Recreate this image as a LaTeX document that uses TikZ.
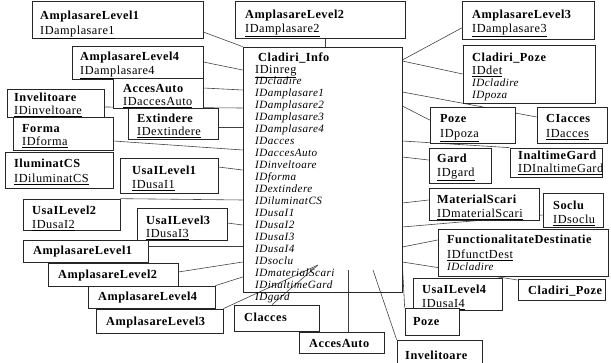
\documentclass[tikz,border=0pt]{standalone}
\usepackage{fontspec}
\setmainfont{Liberation Serif}[LetterSpace=4]
\usepackage{tikz}
\usetikzlibrary{
fit,
backgrounds,
}

\begin{document}
\begin{tikzpicture}[x=0.03cm, y=0.03cm,
		tbl/.style={draw=black!85, line width=0.6pt, fill=white, inner sep=0pt, rectangle},
		ttl/.style={anchor=base west, inner sep=0pt, font=\fontsize{10.5}{12}\selectfont\bfseries},
		key/.style={anchor=base west, inner sep=0pt, font=\fontsize{10.5}{12}\selectfont},
		fld/.style={anchor=base west, inner sep=0pt, font=\fontsize{9.5}{11}\selectfont\itshape},
		cn/.style={draw=black!75, line width=0.5pt}]
				\useasboundingbox (0,0) rectangle (611,-363);
				% central table
				\node[tbl, fill=none, fit={(243,-47) (402,-292)}] (ci) {};
				\node[ttl] (ci-t) at (258,-61) {Cladiri\_Info};
				\node[key] (ci-k) at (255,-73) {\underline{IDinreg}};
				\foreach \f [count=\i] in {IDcladire, IDamplasare1, IDamplasare2, IDamplasare3,
					IDamplasare4, IDacces, IDaccesAuto, IDinveltoare, IDforma, IDextindere,
					IDiluminatCS, IDusaI1, IDusaI2, IDusaI3, IDusaI4, IDsoclu, IDmaterialScari,
					IDinaltimeGard, IDgard}
					\node[fld] (ci-f\i) at (255,{-73-11.95*\i}) {\f};
				\coordinate (ci-in1) at (318,-265);
				\coordinate (ci-in2) at (348,-270);
				\coordinate (ci-in3) at (373,-270);
				% top row
				\node[tbl, fit={(32,-1) (203,-38)}] (al1) {};
				\node[ttl] at (40,-20) {AmplasareLevel1};
				\node[key] at (40,-34) {\underline{IDamplasare1}};
				\node[tbl, fit={(235,-1) (405,-38)}] (al2) {};
				\node[ttl] at (245,-18) {AmplasareLevel2};
				\node[key] at (245,-32) {\underline{IDamplasare2}};
				\node[tbl, fit={(462,-1) (594,-39)}] (al3) {};
				\node[ttl] at (472,-18) {AmplasareLevel3};
				\node[key] at (472,-32) {\underline{IDamplasare3}};
				% left side
				\node[tbl, fit={(72,-46) (203,-79)}] (al4) {};
				\node[ttl] at (80,-60) {AmplasareLevel4};
				\node[key] at (80,-74) {\underline{IDamplasare4}};
				\node[tbl, fit={(113,-78) (203,-108)}] (aa) {};
				\node[ttl] at (123,-92) {AccesAuto};
				\node[key] at (123,-105) {\underline{IDaccesAuto}};
				\node[tbl, fit={(7,-89) (104,-117)}] (inv) {};
				\node[ttl] at (14,-101) {Invelitoare};
				\node[key] at (14,-114) {\underline{IDinveltoare}};
				\node[tbl, fit={(128,-108) (218,-139)}] (ext) {};
				\node[ttl] at (137,-122) {Extindere};
				\node[key] at (137,-135) {\underline{IDextindere}};
				\node[tbl, fit={(13,-117) (113,-150)}] (frm) {};
				\node[ttl] at (22,-132) {Forma};
				\node[key] at (22,-145) {\underline{IDforma}};
				\node[tbl, fit={(5,-152) (113,-188)}] (ilu) {};
				\node[ttl] at (14,-167) {IluminatCS};
				\node[key] at (14,-182) {\underline{IDiluminatCS}};
				\node[tbl, fit={(120,-158) (218,-193)}] (u1) {};
				\node[ttl] at (132,-174) {UsaILevel1};
				\node[key] at (132,-188) {\underline{IDusaI1}};
				\node[tbl, fit={(23,-199) (120,-230)}] (u2) {};
				\node[ttl] at (32,-214) {UsaILevel2};
				\node[key] at (32,-228) {\underline{IDusaI2}};
				\node[tbl, fit={(137,-208) (227,-240)}] (u3) {};
				\node[ttl] at (146,-224) {UsaILevel3};
				\node[key] at (146,-237) {\underline{IDusaI3}};
				% bottom left
				\node[tbl, fit={(23,-240) (148,-262)}] (bl1) {};
				\node[ttl] at (33,-254) {AmplasareLevel1};
				\node[tbl, fit={(48,-263) (178,-286)}] (bl2) {};
				\node[ttl] at (58,-278) {AmplasareLevel2};
				\node[tbl, fit={(88,-286) (215,-308)}] (bl4) {};
				\node[ttl] at (98,-300) {AmplasareLevel4};
				\node[tbl, fit={(96,-309) (223,-333)}] (bl3) {};
				\node[ttl] at (106,-325) {AmplasareLevel3};
				\node[tbl, fit={(234,-305) (319,-331)}] (clb) {};
				\node[ttl] at (244,-321) {Clacces};
				\node[tbl, fit={(299,-332) (384,-353)}] (aab) {};
				\node[ttl] at (309,-347) {AccesAuto};
				% right side
				\node[tbl, fit={(463,-45) (595,-103)}] (cp) {};
				\node[ttl] at (472,-61) {Cladiri\_Poze};
				\node[key] at (472,-74) {\underline{IDdet}};
				\node[fld] at (472,-86) {IDcladire};
				\node[fld] at (472,-98) {IDpoza};
				\node[tbl, fit={(430,-107) (515,-143)}] (pz) {};
				\node[ttl] at (440,-122) {Poze};
				\node[key] at (440,-137) {\underline{IDpoza}};
				\node[tbl, fit={(537,-107) (607,-143)}] (cia) {};
				\node[ttl] at (546,-122) {CIacces};
				\node[key] at (546,-137) {\underline{IDacces}};
				\node[tbl, fit={(429,-148) (491,-183)}] (gd) {};
				\node[ttl] at (437,-162) {Gard};
				\node[key] at (437,-176) {\underline{IDgard}};
				\node[tbl, fit={(510,-148) (602,-177)}] (ig) {};
				\node[ttl] at (518,-159) {InaltimeGard};
				\node[key] at (518,-172) {\underline{IDInaltimeGard}};
				\node[tbl, fit={(429,-188) (539,-220)}] (ms) {};
				\node[ttl] at (437,-203) {MaterialScari};
				\node[key] at (437,-217) {\underline{IDmaterialScari}};
				\node[tbl, fit={(543,-193) (603,-227)}] (sc) {};
				\node[ttl] at (553,-209) {Soclu};
				\node[key] at (553,-223) {\underline{IDsoclu}};
				\node[tbl, fit={(438,-229) (608,-276)}] (fd) {};
				\node[ttl] at (447,-243) {FunctionalitateDestinatie};
				\node[key] at (447,-258) {\underline{IDfunctDest}};
				\node[fld] at (447,-270) {IDcladire};
				\node[tbl, fit={(413,-278) (502,-310)}] (u4) {};
				\node[ttl] at (422,-293) {UsaILevel4};
				\node[key] at (422,-307) {\underline{IDusaI4}};
				\node[tbl, fit={(518,-279) (605,-300)}] (cpb) {};
				\node[ttl] at (528,-294) {Cladiri\_Poze};
				\node[tbl, fit={(405,-308) (459,-335)}] (pzb) {};
				\node[ttl] at (413,-325) {Poze};
				\node[tbl, fit={(397,-340) (482,-372)}] (invb) {};
				\node[ttl] at (405,-359) {Invelitoare};
				% relationship lines
				\begin{scope}[on background layer]
				\draw[cn] (al1.east |- 0,-32) -- (ci.north west);
				\draw[cn] (al2.south -| 0+325,0) -- (ci.north -| 0+325,0);
				\draw[cn] (al3.west |- 0,-28) -- (ci.east |- 0,-60);
				\draw[cn] (cp.west |- 0,-74) -- (ci.east |- 0,-61);
				\draw[cn] (al4.east |- 0,-62) -- (ci.west |- 0,-70);
				\draw[cn] (aa.east |- 0,-88) -- (ci.west |- 0,-90);
				\draw[cn] (inv.east |- 0,-107) -- (ci.west |- 0,-108);
				\draw[cn] (ext.east |- 0,-127) -- (ci.west |- 0,-127);
				\draw[cn] (frm.east |- 0,-141) -- (ci.west |- 0,-150);
				\draw[cn] (u1.east |- 0,-167) -- (ci.west |- 0,-170);
				\draw[cn] (u2.north east) -- (ci.west |- 0,-200);
				\draw[cn] (u3.east |- 0,-223) -- (ci.west |- 0,-225);
				\draw[cn] (bl1.east |- 0,-246) -- (ci.west |- 0,-246);
				\draw[cn] (bl2.east |- 0,-272) -- (ci.west |- 0,-262);
				\draw[cn] (bl4.north east) -- (ci.west |- 0,-277);
				\draw[cn] (bl3.north east) -- (ci-in1);
				\draw[cn] (clb.north -| 0+272,0) -- (ci-in1);
				\draw[cn] (aab.north -| ci-in2) -- (ci-in2);
				\draw[cn] (invb.north west) -- (ci-in3);
				\draw[cn] (cia.west |- 0,-117) -- (ci.east |- 0,-92);
				\draw[cn] (pz.west |- 0,-120) -- (ci.east |- 0,-106);
				\draw[cn] (ig.north west) -- (ci.east |- 0,-141);
				\draw[cn] (gd.west |- 0,-160) -- (ci.east |- 0,-157);
				\draw[cn] (ms.west |- 0,-200) -- (ci.east |- 0,-203);
				\draw[cn] (sc.west |- 0,-215) -- (ci.east |- 0,-227);
				\draw[cn] (fd.west |- 0,-240) -- (ci.east |- 0,-247);
				\draw[cn] (cpb.west |- 0,-280) -- (ci.east |- 0,-262);
				\draw[cn] (pzb.north west) -- (ci.east |- 0,-264);
				\end{scope}
			\end{tikzpicture}
\end{document}
